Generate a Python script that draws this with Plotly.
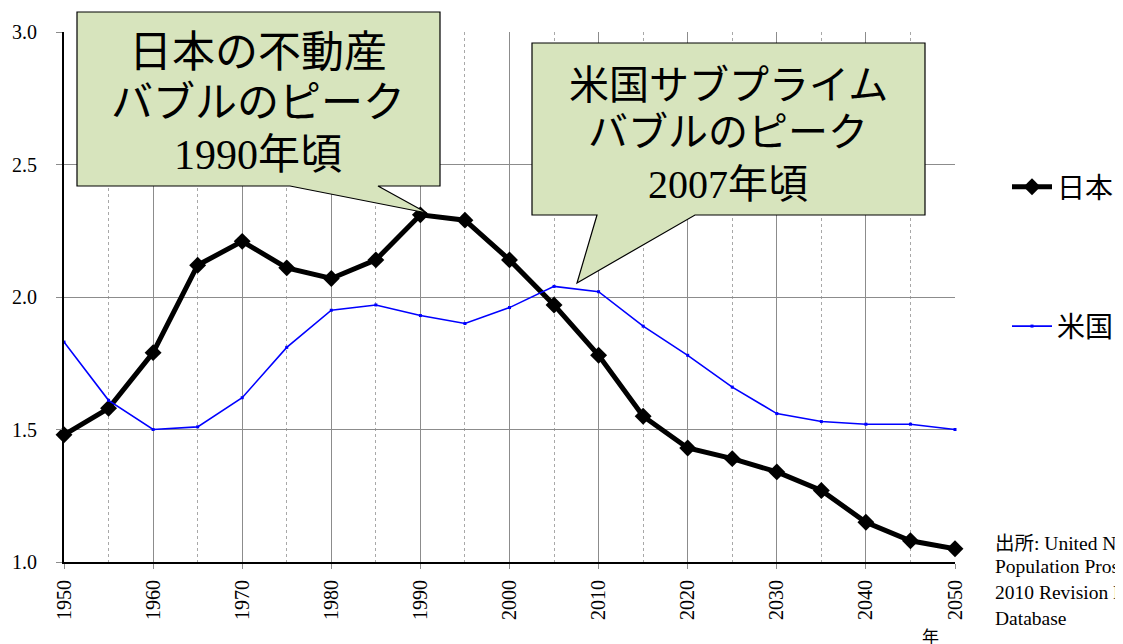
import plotly.graph_objects as go

years = [1950, 1955, 1960, 1965, 1970, 1975, 1980, 1985, 1990, 1995, 2000,
         2005, 2010, 2015, 2020, 2025, 2030, 2035, 2040, 2045, 2050]
japan = [1.48, 1.58, 1.79, 2.12, 2.21, 2.11, 2.07, 2.14, 2.31, 2.29, 2.14,
         1.97, 1.78, 1.55, 1.43, 1.39, 1.34, 1.27, 1.15, 1.08, 1.05]
usa = [1.83, 1.61, 1.50, 1.51, 1.62, 1.81, 1.95, 1.97, 1.93, 1.90, 1.96,
       2.04, 2.02, 1.89, 1.78, 1.66, 1.56, 1.53, 1.52, 1.52, 1.50]
series_names = ["日本", "米国"]
y_ticks = [1.0, 1.5, 2.0, 2.5, 3.0]
x_ticks = [1950, 1960, 1970, 1980, 1990, 2000, 2010, 2020, 2030, 2040, 2050]

OFF = 8  # page body margin
W, H = 1123 - OFF, 644 - OFF
L, R, T, B = 64 - OFF, 955 - OFF, 32 - OFF, 562 - OFF

SERIF = "Liberation Serif"
GOTH = "Noto Sans CJK JP"


def px(x, y):
    """window pixel -> paper coords"""
    x -= OFF
    y -= OFF
    return (x - L) / (R - L), (B - y) / (B - T)


def callout(pts):
    parts = []
    for i, (x, y) in enumerate(pts):
        u, v = px(x, y)
        parts.append(("M" if i == 0 else "L") + f"{u:.5f},{v:.5f}")
    return " ".join(parts) + " Z"


fig = go.Figure()
fig.add_trace(go.Scatter(
    x=years, y=japan, name=series_names[0], mode="lines+markers",
    line=dict(color="black", width=5),
    marker=dict(symbol="diamond", size=13, color="black"),
    cliponaxis=False, legendgroup="a"))
fig.add_trace(go.Scatter(
    x=years, y=usa, name=series_names[1], mode="lines+markers",
    line=dict(color="#0000FF", width=1.6),
    marker=dict(symbol="square", size=3, color="#0000FF"),
    cliponaxis=False, legendgroup="b"))

# callout boxes
box1 = [(77, 12), (440, 12), (440, 186), (378, 186), (427, 213), (290, 186), (77, 186)]
box2 = [(532, 43), (925, 43), (925, 215), (695, 215), (577, 283), (597, 215), (532, 215)]
shapes = []
for b in (box1, box2):
    shapes.append(dict(type="path", path=callout(b), xref="paper", yref="paper",
                       fillcolor="#D7E4BD", line=dict(color="black", width=1.2),
                       layer="above"))

annotations = []


def text(x, y, s, size, family, color="black", xanchor="center"):
    u, v = px(x, y)
    annotations.append(dict(x=u, y=v, xref="paper", yref="paper", text=s,
                            showarrow=False, xanchor=xanchor, yanchor="middle",
                            font=dict(size=size, family=family, color=color)))


text(258, 48, "日本の不動産", 43, GOTH)
text(258, 99, "バブルのピーク", 42, GOTH)
text(258, 151, f'<span style="font-family:{SERIF}">1990</span>年頃', 42, GOTH)
text(728, 82, "米国サブプライム", 40, GOTH)
text(728, 129, "バブルのピーク", 40, GOTH)
text(728, 181, f'<span style="font-family:{SERIF}">2007</span>年頃', 40, GOTH)

# source note
src = [f'出所<span style="font-family:{SERIF}">: United Nations, World</span>',
       "Population Prospects: The",
       "2010 Revision Population",
       "Database"]
for i, s in enumerate(src):
    text(993, 541 + i * 25.7, s, 19.5, GOTH if i == 0 else SERIF, xanchor="left")
text(930, 635, "年", 17, GOTH)

fig.update_layout(
    width=W, height=H,
    margin=dict(l=L, r=W - R, t=T, b=H - B, autoexpand=False),
    paper_bgcolor="white", plot_bgcolor="white",
    showlegend=True,
    legend=dict(x=px(1007, 0)[0], y=px(0, 162)[1], xanchor="left", yanchor="top",
                font=dict(size=28, family=GOTH, color="black"),
                tracegroupgap=100, bgcolor="rgba(0,0,0,0)", itemwidth=40),
    xaxis=dict(range=[1950, 2050], tickvals=x_ticks, ticktext=[str(v) for v in x_ticks],
               tickangle=-90, tickfont=dict(family=SERIF, size=20, color="black"),
               showgrid=True, gridcolor="#8C8C8C", gridwidth=1,
               minor=dict(dtick=5, tick0=1950, showgrid=True, gridcolor="#A8A8A8",
                          griddash="dot", gridwidth=1),
               showline=True, linecolor="black", linewidth=2,
               ticks="outside", ticklen=5, tickcolor="#8C8C8C",
               ticklabelstandoff=3,
               zeroline=False, fixedrange=True),
    yaxis=dict(range=[1.0, 3.0], tickvals=y_ticks, ticktext=[f"{v:.1f}" for v in y_ticks],
               tickfont=dict(family=SERIF, size=20, color="black"),
               showgrid=True, gridcolor="#8C8C8C", gridwidth=1,
               showline=True, linecolor="black", linewidth=2,
               ticks="outside", ticklen=6, tickcolor="#8C8C8C",
               ticklabelstandoff=15,
               zeroline=False, fixedrange=True),
    shapes=shapes, annotations=annotations,
)

fig.write_html("out.html")
